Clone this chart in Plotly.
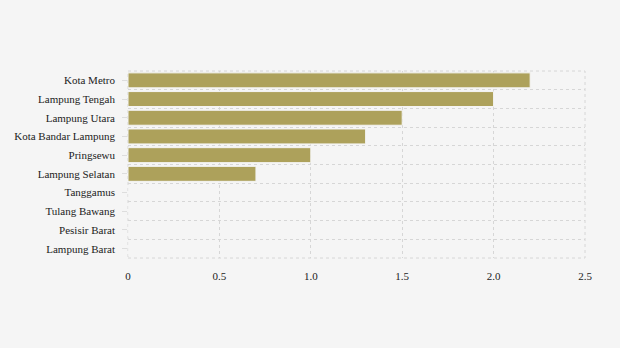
import plotly.graph_objects as go

# Districts, listed top to bottom
regions = [
    "Kota Metro", "Lampung Tengah", "Lampung Utara", "Kota Bandar Lampung",
    "Pringsewu", "Lampung Selatan", "Tanggamus", "Tulang Bawang",
    "Pesisir Barat", "Lampung Barat",
]
values = [2.2, 2.0, 1.5, 1.3, 1.0, 0.7, 0.0, 0.0, 0.0, 0.0]

x_ticks = [0, 0.5, 1.0, 1.5, 2.0, 2.5]
x_tick_text = ["0", "0.5", "1.0", "1.5", "2.0", "2.5"]

bg = "#f5f5f5"
grid = "#d6d6d6"
font = dict(family="Liberation Serif, Times New Roman, serif", size=11, color="#222222")

n = len(regions)
y_range = [n - 0.5, -0.5]

fig = go.Figure()
fig.add_trace(go.Bar(
    x=values, y=regions, orientation="h",
    marker=dict(color="#ada15b", line=dict(color="#f5f5f5", width=1)),
    hoverinfo="x+y",
))
# companion trace carrying the centred tick stubs on the overlay axis
fig.add_trace(go.Scatter(
    x=values, y=regions, yaxis="y2", mode="markers",
    marker=dict(opacity=0, size=1), hoverinfo="skip", showlegend=False,
))

fig.update_layout(
    width=620, height=348,
    margin=dict(l=128, r=35, t=71, b=90),
    paper_bgcolor=bg, plot_bgcolor=bg,
    font=font, showlegend=False, bargap=0.2,
    xaxis=dict(
        range=[0, 2.5], tickvals=x_ticks, ticktext=x_tick_text,
        showgrid=True, gridcolor=grid, griddash="dot", gridwidth=1,
        zeroline=False, showline=False, ticks="", ticklabelstandoff=10,
    ),
    yaxis=dict(
        type="category", categoryorder="array", categoryarray=regions,
        range=y_range, autorange=False, tickson="boundaries", ticks="",
        showgrid=True, gridcolor=grid, griddash="dot", gridwidth=1,
        showline=False, zeroline=False, ticklabelstandoff=12,
    ),
    yaxis2=dict(
        type="category", categoryarray=regions, categoryorder="array",
        overlaying="y", range=y_range, autorange=False, side="left",
        showticklabels=False, ticks="outside", ticklen=5,
        tickcolor="#dddddd", showgrid=False, showline=False, zeroline=False,
    ),
    # dotted frame along the outer grid edges
    shapes=[dict(
        type="rect", xref="x domain", yref="y domain",
        x0=0, x1=1, y0=0, y1=1,
        line=dict(color=grid, width=1, dash="dot"), layer="below",
    )],
)

fig.write_html("out.html")
